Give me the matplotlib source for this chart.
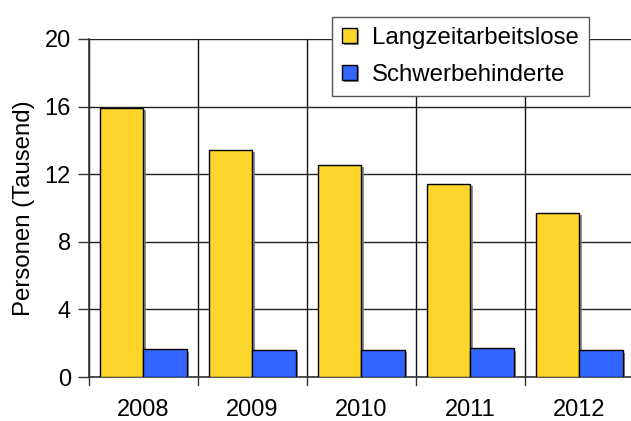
import matplotlib
matplotlib.use("Agg")
import matplotlib.pyplot as plt
import matplotlib.patheffects as pe
import numpy as np

plt.rcParams['font.family'] = ['Liberation Sans', 'DejaVu Sans']

years = ["2008", "2009", "2010", "2011", "2012"]
langzeit = [15.9, 13.45, 12.55, 11.4, 9.7]
schwer = [1.63, 1.6, 1.62, 1.69, 1.57]
yticks = [0, 4, 8, 12, 16, 20]

fig = plt.figure(figsize=(6.31, 4.21), dpi=100)
ax = fig.add_axes([89/631, 44/421, 545/631, 338/421])

x = np.arange(len(years))
w = 0.40
shadow = [pe.SimplePatchShadow(offset=(1.5, -1.5), shadow_rgbFace='#808080', alpha=0.9), pe.Normal()]
ax.bar(x - w/2, langzeit, w, color='#FDD52B', edgecolor='black', linewidth=1.0,
       label='Langzeitarbeitslose', zorder=3, path_effects=shadow)
ax.bar(x + w/2, schwer, w, color='#3366FF', edgecolor='black', linewidth=1.0,
       label='Schwerbehinderte', zorder=3, path_effects=shadow)

FS = 17
ax.set_xlim(-0.5, len(years) - 0.5)
ax.set_ylim(0, 20)
ax.set_yticks(yticks)
ax.set_yticklabels([str(t) for t in yticks], fontsize=FS)
ax.set_xticks(x)
ax.set_xticklabels(years, fontsize=FS)
ax.tick_params(axis='x', length=0, pad=16)
ax.tick_params(axis='y', length=8, width=1, color='#333333', pad=5)

ax.yaxis.grid(True, color='#222222', linewidth=1.0, zorder=1)
ax.set_axisbelow(True)
for b in np.arange(-0.5, len(years) + 0.5, 1.0):
    ax.axvline(b, color='#111111', linewidth=1.0, zorder=1)
    ax.plot([b, b], [0, -0.025], transform=ax.get_xaxis_transform(), color='#333333',
            linewidth=1.0, clip_on=False)

for s in ['top', 'right']:
    ax.spines[s].set_visible(False)
for s in ['left', 'bottom']:
    ax.spines[s].set_color('#333333')
    ax.spines[s].set_linewidth(1.2)

ax.set_ylabel('Personen (Tausend)', fontsize=17.3, labelpad=7)

leg = ax.legend(loc='upper left', fontsize=17.3, frameon=True, fancybox=False,
                handlelength=0.6, handleheight=0.6, handletextpad=0.65,
                borderpad=0.42, labelspacing=0.62, framealpha=1, borderaxespad=0)
leg.set_bbox_to_anchor((332/631, 1 - 17/421), transform=fig.transFigure)
leg.get_frame().set_edgecolor('#555555')
leg.get_frame().set_linewidth(1.0)
leg.set_zorder(5)

fig.savefig('out.png', dpi=100)
